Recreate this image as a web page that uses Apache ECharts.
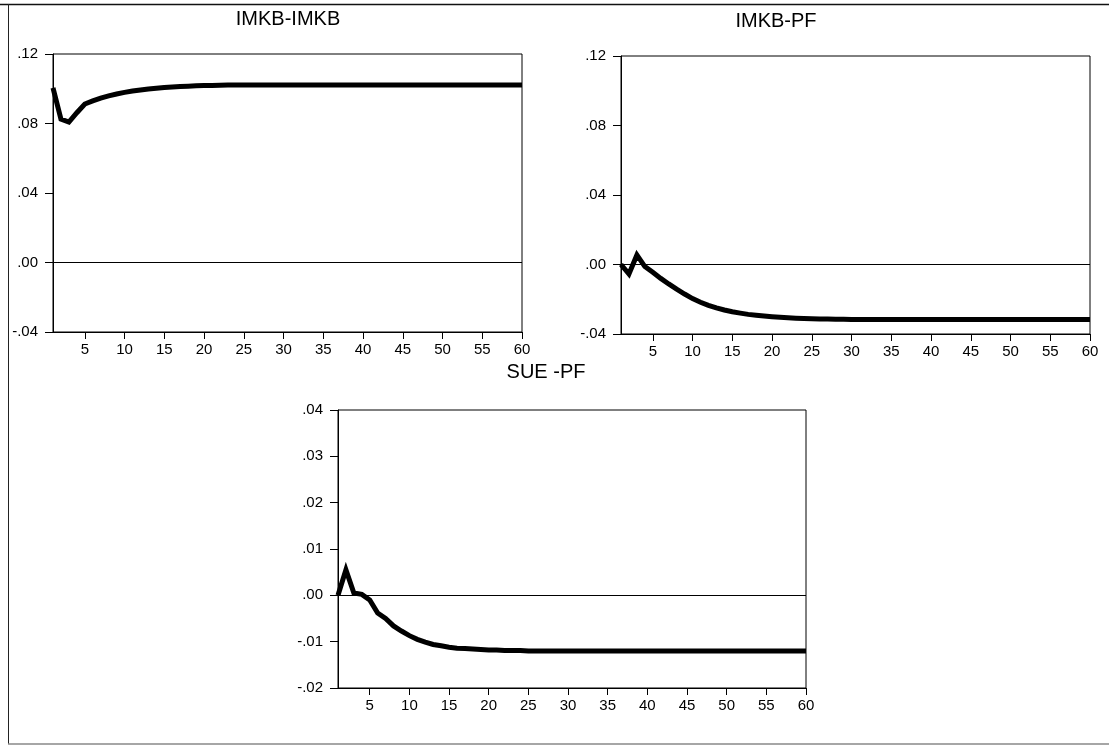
<!DOCTYPE html>
<html>
<head>
<meta charset="utf-8">
<title>Impulse responses</title>
<script src="https://cdn.jsdelivr.net/npm/echarts@6/dist/echarts.min.js"></script>
<style>
  html, body { margin: 0; padding: 0; background: #fff; }
  #chart { width: 1109px; height: 745px; }
</style>
</head>
<body>
<div id="chart"></div>
<script>
// Response horizon (periods 1..60)
const categories = [
  '1','2','3','4','5','6','7','8','9','10',
  '11','12','13','14','15','16','17','18','19','20',
  '21','22','23','24','25','26','27','28','29','30',
  '31','32','33','34','35','36','37','38','39','40',
  '41','42','43','44','45','46','47','48','49','50',
  '51','52','53','54','55','56','57','58','59','60'
];
// Periods that carry a tick and a label on the horizontal axes
const xTickLabels = ['5','10','15','20','25','30','35','40','45','50','55','60'];

// IMKB response to an IMKB shock
const imkbImkb = [
  0.1005, 0.0825, 0.0808, 0.0862, 0.0912, 0.0930, 0.0946, 0.0959, 0.0970, 0.0979,
  0.0987, 0.0993, 0.0999, 0.1003, 0.1007, 0.1010, 0.1013, 0.1015, 0.1017, 0.1018,
  0.1019, 0.1020, 0.1021, 0.1021, 0.1022, 0.1022, 0.1022, 0.1022, 0.1022, 0.1022,
  0.1022, 0.1022, 0.1022, 0.1022, 0.1022, 0.1022, 0.1022, 0.1022, 0.1022, 0.1022,
  0.1022, 0.1022, 0.1022, 0.1022, 0.1022, 0.1022, 0.1022, 0.1022, 0.1022, 0.1022,
  0.1022, 0.1022, 0.1022, 0.1022, 0.1022, 0.1022, 0.1022, 0.1022, 0.1022, 0.1022
];

// IMKB response to a PF shock
const imkbPf = [
  0.0000, -0.0055, 0.0055, -0.0012, -0.0045, -0.0080, -0.0112, -0.0142, -0.0170, -0.0196,
  -0.0217, -0.0235, -0.0250, -0.0262, -0.0272, -0.0280, -0.0287, -0.0292, -0.0297, -0.0301,
  -0.0304, -0.0307, -0.0309, -0.0311, -0.0312, -0.0313, -0.0314, -0.0315, -0.0315, -0.0316,
  -0.0316, -0.0316, -0.0316, -0.0316, -0.0316, -0.0316, -0.0316, -0.0316, -0.0316, -0.0316,
  -0.0316, -0.0316, -0.0316, -0.0316, -0.0316, -0.0316, -0.0316, -0.0316, -0.0316, -0.0316,
  -0.0316, -0.0316, -0.0316, -0.0316, -0.0316, -0.0316, -0.0316, -0.0316, -0.0316, -0.0316
];

// SUE response to a PF shock
const suePf = [
  0.0000, 0.0055, 0.0005, 0.0002, -0.0010, -0.0038, -0.0050, -0.0066, -0.0077, -0.0087,
  -0.0095, -0.0101, -0.0106, -0.0109, -0.0112, -0.0114, -0.0115, -0.0116, -0.0117, -0.0118,
  -0.0118, -0.0119, -0.0119, -0.0119, -0.0120, -0.0120, -0.0120, -0.0120, -0.0120, -0.0120,
  -0.0120, -0.0120, -0.0120, -0.0120, -0.0120, -0.0120, -0.0120, -0.0120, -0.0120, -0.0120,
  -0.0120, -0.0120, -0.0120, -0.0120, -0.0120, -0.0120, -0.0120, -0.0120, -0.0120, -0.0120,
  -0.0120, -0.0120, -0.0120, -0.0120, -0.0120, -0.0120, -0.0120, -0.0120, -0.0120, -0.0120
];

const panelTitles = ['IMKB-IMKB', 'IMKB-PF', 'SUE -PF'];

const FONT = '"Liberation Sans", Arial, sans-serif';
const INK = '#000';

// Axis labels like ".12", ".00", "-.04"
function decimalLabel(v) {
  return (Math.round(v * 100) / 100).toFixed(2).replace('0.', '.');
}

const grids = [
  { left: 53,  top: 54,  width: 469, height: 278 },
  { left: 621, top: 56,  width: 469, height: 278 },
  { left: 338, top: 410, width: 468, height: 278 }
];
const yRanges = [
  { min: -0.04, max: 0.12, interval: 0.04 },
  { min: -0.04, max: 0.12, interval: 0.04 },
  { min: -0.02, max: 0.04, interval: 0.01 }
];
const seriesData = [imkbImkb, imkbPf, suePf];

const showTick = (idx, value) => xTickLabels.indexOf(String(value)) !== -1;

const option = {
  animation: false,
  backgroundColor: '#fff',
  grid: grids.map(g => Object.assign({
    show: true, borderColor: INK, borderWidth: 1, backgroundColor: 'transparent',
    containLabel: false
  }, g)),
  xAxis: grids.map((g, i) => ({
    type: 'category',
    gridIndex: i,
    data: categories,
    boundaryGap: false,
    position: 'bottom',
    axisLine: { show: true, onZero: false, lineStyle: { color: INK, width: 1 } },
    axisTick: { show: true, inside: false, length: 7, interval: showTick, lineStyle: { color: INK, width: 1 } },
    axisLabel: {
      show: true, interval: showTick, margin: 10,
      color: INK, fontFamily: FONT, fontSize: 15
    },
    splitLine: { show: false }
  })),
  yAxis: yRanges.map((r, i) => ({
    type: 'value',
    gridIndex: i,
    min: r.min, max: r.max, interval: r.interval,
    position: 'left',
    axisLine: { show: true, onZero: false, lineStyle: { color: INK, width: 1 } },
    axisTick: { show: true, inside: false, length: 8, lineStyle: { color: INK, width: 1 } },
    axisLabel: {
      show: true, margin: 15, formatter: decimalLabel,
      color: INK, fontFamily: FONT, fontSize: 15
    },
    splitLine: { show: false }
  })),
  series: seriesData.map((d, i) => ({
    type: 'line',
    xAxisIndex: i,
    yAxisIndex: i,
    data: d,
    showSymbol: false,
    symbol: 'none',
    smooth: false,
    lineStyle: { color: INK, width: 5, join: 'miter' },
    z: 3,
    markLine: {
      silent: true,
      symbol: 'none',
      label: { show: false },
      lineStyle: { color: INK, width: 1, type: 'solid' },
      data: [{ yAxis: 0 }],
      z: 2
    }
  })),
  graphic: [
    // page frame: top and left rules, grey bottom rule
    { type: 'line', shape: { x1: 0, y1: 4.5, x2: 1109, y2: 4.5 }, style: { stroke: '#111', lineWidth: 1.5 }, silent: true },
    { type: 'line', shape: { x1: 8.5, y1: 4, x2: 8.5, y2: 744 }, style: { stroke: '#222', lineWidth: 1 }, silent: true },
    { type: 'line', shape: { x1: 8, y1: 744, x2: 1109, y2: 744 }, style: { stroke: '#888', lineWidth: 1.5 }, silent: true },
    // panel titles
    { type: 'text', x: 288, y: 19, style: { text: panelTitles[0], font: '20px ' + FONT, fill: INK, align: 'center', verticalAlign: 'middle' }, silent: true },
    { type: 'text', x: 776, y: 21, style: { text: panelTitles[1], font: '20px ' + FONT, fill: INK, align: 'center', verticalAlign: 'middle' }, silent: true },
    { type: 'text', x: 546, y: 372, style: { text: panelTitles[2], font: '20px ' + FONT, fill: INK, align: 'center', verticalAlign: 'middle' }, silent: true }
  ]
};

const chart = echarts.init(document.getElementById('chart'), null, { renderer: 'canvas' });
chart.setOption(option);
</script>
</body>
</html>
